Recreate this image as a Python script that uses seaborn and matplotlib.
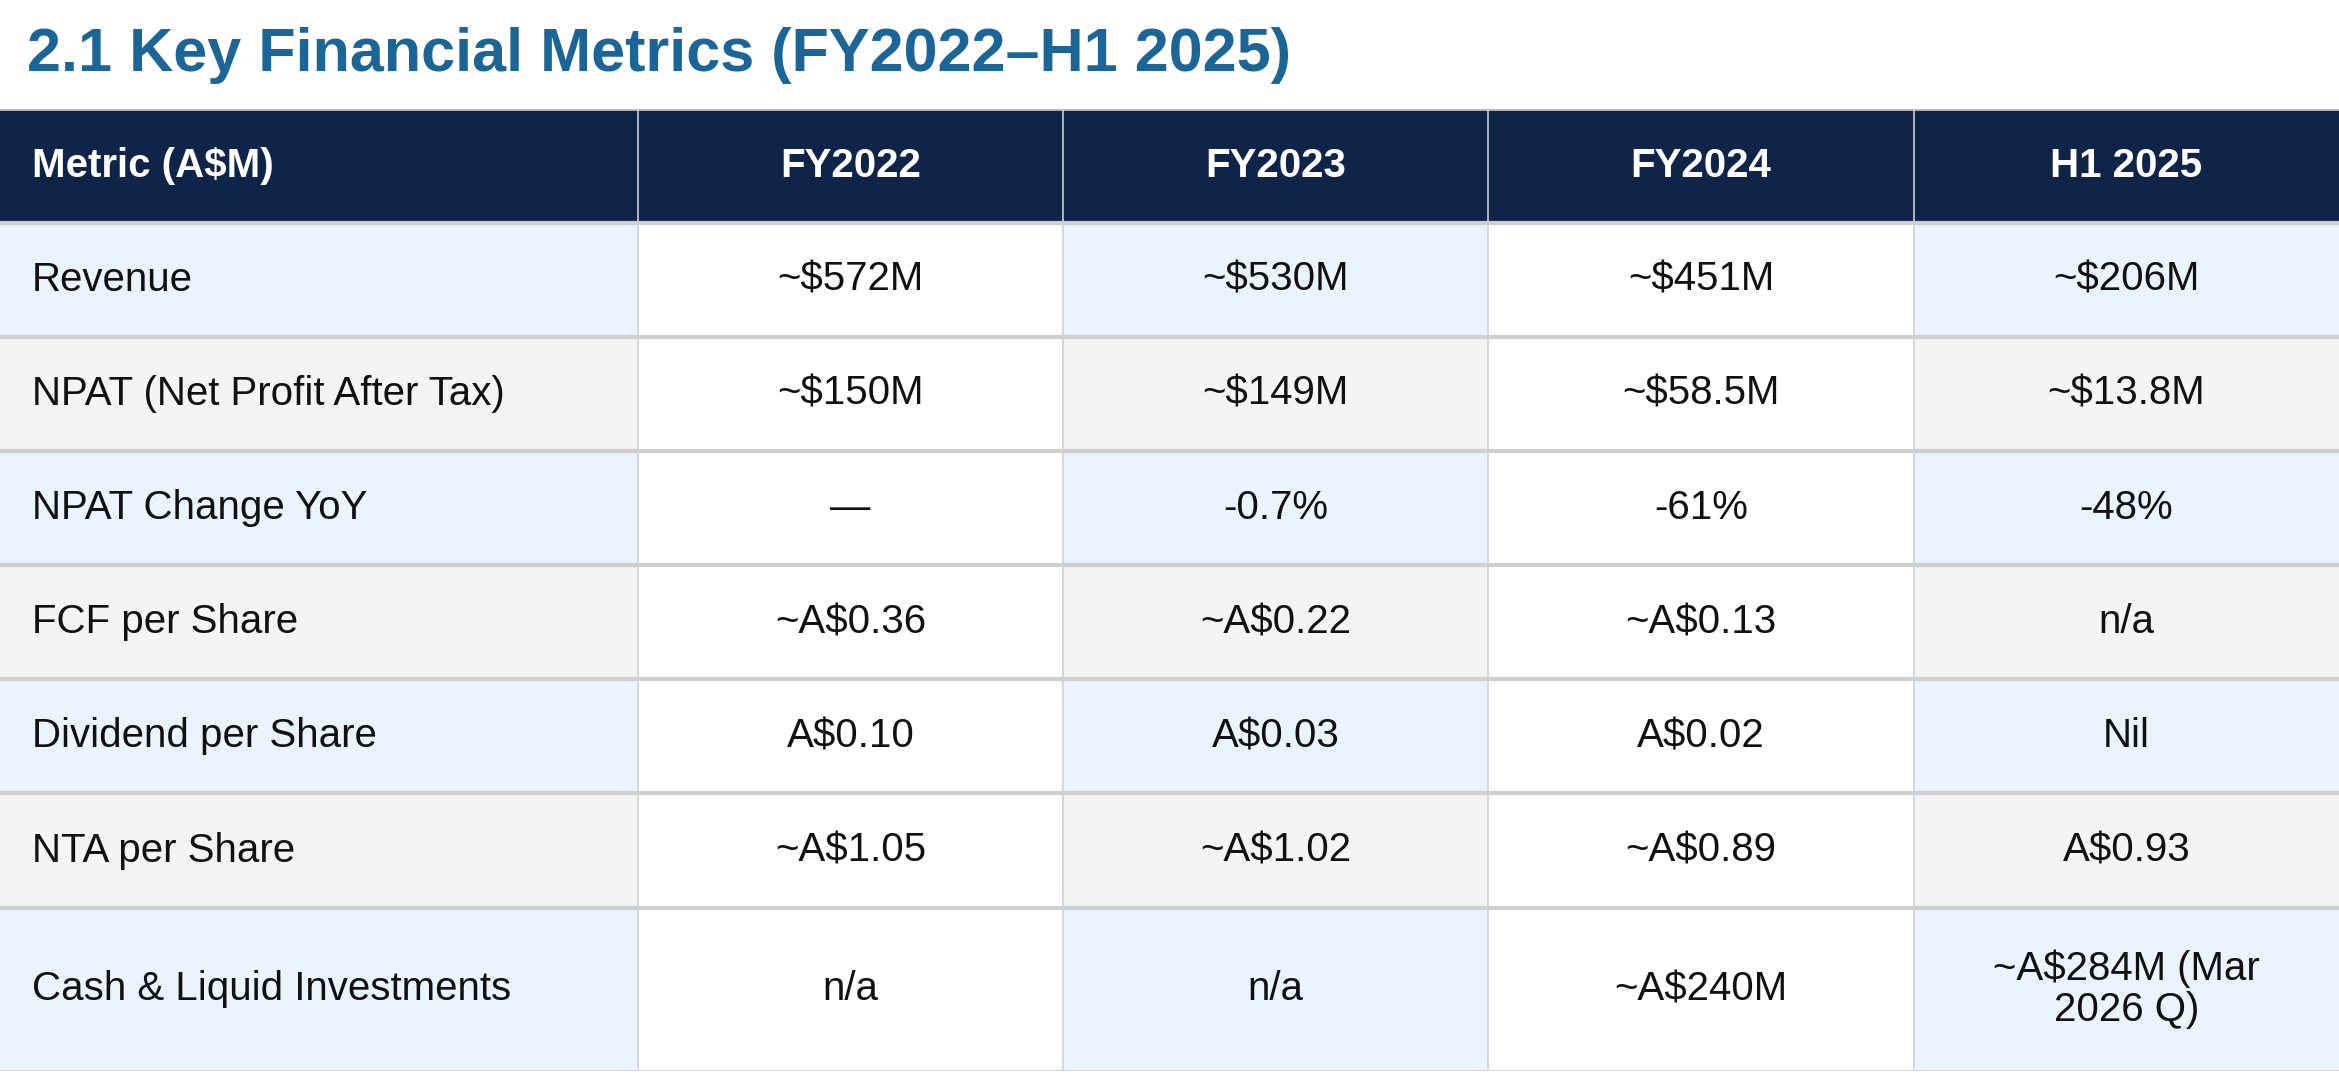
#!/usr/bin/env python3
# -*- coding: utf-8 -*-
#import needed packages
import numpy as np
import seaborn as sns
import matplotlib.pyplot as plt
from matplotlib.colors import ListedColormap

plt.rcParams['font.family'] = ['Liberation Sans', 'DejaVu Sans']

#table contents
columns = ['Metric (A$M)', 'FY2022', 'FY2023', 'FY2024', 'H1 2025']
metrics = ['Revenue', 'NPAT (Net Profit After Tax)', 'NPAT Change YoY', 'FCF per Share',
           'Dividend per Share', 'NTA per Share', 'Cash & Liquid Investments']
fy2022 = ['~$572M', '~$150M', '\u2014', '~A$0.36', 'A$0.10', '~A$1.05', 'n/a']
fy2023 = ['~$530M', '~$149M', '-0.7%', '~A$0.22', 'A$0.03', '~A$1.02', 'n/a']
fy2024 = ['~$451M', '~$58.5M', '-61%', '~A$0.13', 'A$0.02', '~A$0.89', '~A$240M']
h1_2025 = ['~$206M', '~$13.8M', '-48%', 'n/a', 'Nil', 'A$0.93', '~A$284M (Mar\n2026 Q)']

#cell colour codes: 0 header, 1 light blue, 2 light grey, 3 white
codes = [[0] * 5]
for i in range(len(metrics)):
    band = 1 if i % 2 == 0 else 2
    codes.append([band, 3, band, 3, band])
codes = np.array(codes)

row_units = [7] * 7 + [10] #last row is taller
col_units = [3, 2, 2, 2, 2]
grid = np.repeat(np.repeat(codes, row_units, axis=0), col_units, axis=1)

fig = plt.figure(figsize=(23.39, 10.75), dpi=100)
ax = fig.add_axes([0, 0.004, 1, 0.895])
cmap = ListedColormap(['#0e2449', '#e9f4fe', '#f4f4f4', '#ffffff'])
sns.heatmap(grid, cmap=cmap, vmin=-0.5, vmax=3.5, cbar=False, ax=ax,
            xticklabels=False, yticklabels=False)

row_edges = np.concatenate([[0], np.cumsum(row_units)])
col_edges = np.concatenate([[0], np.cumsum(col_units)])

#grid lines
for y in row_edges[1:-1]:
    ax.axhline(y, color='#cfcfcf', lw=3)
ax.axhline(0, color='#bdbdbd', lw=2)
ax.axhline(row_edges[-1], color='#cfcfcf', lw=2)
for x in col_edges[1:-1]:
    ax.plot([x, x], [0, row_edges[1]], color='#c8cdd6', lw=1.2)
    ax.plot([x, x], [row_edges[1], row_edges[-1]], color='#d0d0d0', lw=1.2)

#text
table = [columns] + [list(r) for r in zip(metrics, fy2022, fy2023, fy2024, h1_2025)]
for r, row in enumerate(table):
    yc = (row_edges[r] + row_edges[r + 1]) / 2
    for c, txt in enumerate(row):
        header = r == 0
        color = 'white' if header else '#111111'
        weight = 'bold' if header else 'normal'
        if c == 0:
            ax.text(0.15, yc, txt, ha='left', va='center', fontsize=29,
                    color=color, weight=weight)
        else:
            xc = (col_edges[c] + col_edges[c + 1]) / 2
            ax.text(xc, yc, txt, ha='center', va='center', fontsize=29,
                    color=color, weight=weight, linespacing=1.1)

fig.text(0.0115, 0.948, '2.1 Key Financial Metrics (FY2022\u2013H1 2025)', fontsize=44,
         weight='bold', color='#1b6597', ha='left', va='center')

fig.savefig('out.png', dpi=100)
